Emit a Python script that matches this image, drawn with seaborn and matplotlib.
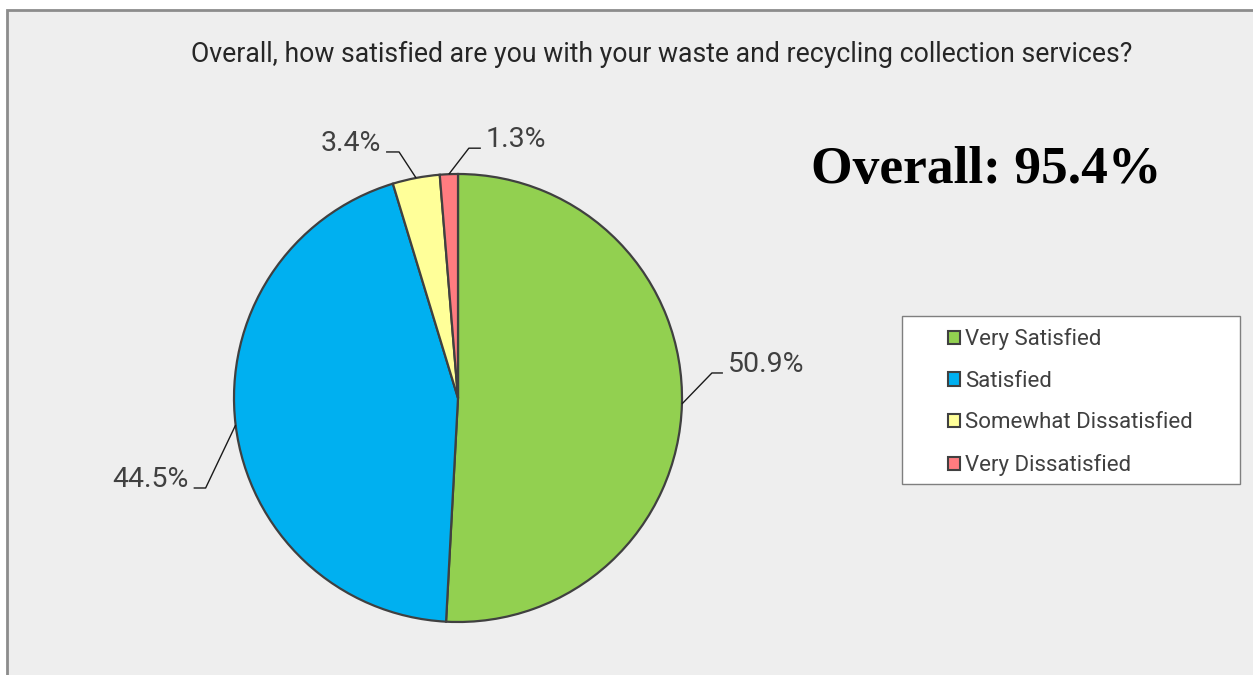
import numpy as np
import matplotlib
matplotlib.use("Agg")
import matplotlib.pyplot as plt
from matplotlib.patches import Patch, Rectangle
import seaborn as sns

# Survey responses
categories = ["Very Satisfied", "Satisfied", "Somewhat Dissatisfied", "Very Dissatisfied"]
shares = [50.9, 44.5, 3.4, 1.3]
title = "Overall, how satisfied are you with your waste and recycling collection services?"

sns.set_theme(style="white")
plt.rcParams["font.family"] = ["Roboto", "DejaVu Sans"]

colors = sns.color_palette(["#92D050", "#00B0F0", "#FFFF99", "#FF7C80"])
text_gray = "#404040"

W, H = 1253, 675
fig = plt.figure(figsize=(W / 100, H / 100), dpi=100, facecolor="white")

# Chart area panel with a grey outline
fig.add_artist(Rectangle((7 / W, -0.02), 1.05, 1 - 9.5 / H + 0.02,
                         transform=fig.transFigure, facecolor="#EEEEEE",
                         edgecolor="#8C8C8C", lw=2, zorder=0))

fig.text(662 / W, 1 - 54 / H, title, ha="center", va="center",
         fontsize=19.2, color="#262626")

# Pie axes
ax = fig.add_axes([234 / W, 53 / H, 448 / W, 448 / H])
ax.set_facecolor("none")
wedges, _ = ax.pie(shares, colors=colors, startangle=90, counterclock=False,
                   radius=1.0,
                   wedgeprops=dict(edgecolor="#404040", linewidth=1.6))
ax.set_xlim(-1, 1)
ax.set_ylim(-1, 1)
ax.set_aspect("equal")
ax.axis("off")

# Leader-line layout for each label (elbow offset, horizontal run), in radius units
px = 1 / 224
elbow = [(30 * px, 31 * px), (-30 * px, -63 * px), (-17 * px, 26 * px), (20 * px, 26 * px)]
run = [11 * px, -12 * px, -13 * px, 12 * px]
gap = 5 * px

for w, val, (ex, ey), r in zip(wedges, shares, elbow, run):
    mid = np.deg2rad((w.theta1 + w.theta2) / 2)
    x0, y0 = np.cos(mid), np.sin(mid)
    x1, y1 = x0 + ex, y0 + ey
    x2 = x1 + r
    ax.plot([x0, x1, x2], [y0, y1, y1], color="#1a1a1a", lw=1.0,
            clip_on=False, solid_capstyle="butt")
    ha = "left" if r > 0 else "right"
    tx = x2 + (gap if r > 0 else -gap)
    ax.text(tx, y1 + 1 * px, f"{val:.1f}%", ha=ha, va="baseline",
            fontsize=20.5, color=text_gray, clip_on=False)

# Headline total of the two satisfied groups
overall = shares[0] + shares[1]
fig.text(986.5 / W, 1 - 170 / H, f"Overall: {overall:.1f}%", ha="center", va="center",
         fontsize=38.5, fontweight="bold", family=["Liberation Serif", "DejaVu Serif"],
         color="black")

# Legend box
fig.add_artist(Rectangle((902 / W, 1 - 484 / H), 338 / W, 168 / H,
                         transform=fig.transFigure, facecolor="white",
                         edgecolor="#7F7F7F", lw=1.0, zorder=1))
handles = [Patch(facecolor=c, edgecolor="#404040", lw=1.5) for c in colors]
leg = fig.legend(handles, categories, loc="upper left",
                 bbox_to_anchor=(937 / W, 1 - 317 / H), frameon=False,
                 fontsize=16, handlelength=0.55, handleheight=0.55,
                 handletextpad=0.22, labelspacing=0.93, borderpad=0)
for t in leg.get_texts():
    t.set_color(text_gray)
leg.set_zorder(2)

fig.savefig("out.png", dpi=100, facecolor="white")
